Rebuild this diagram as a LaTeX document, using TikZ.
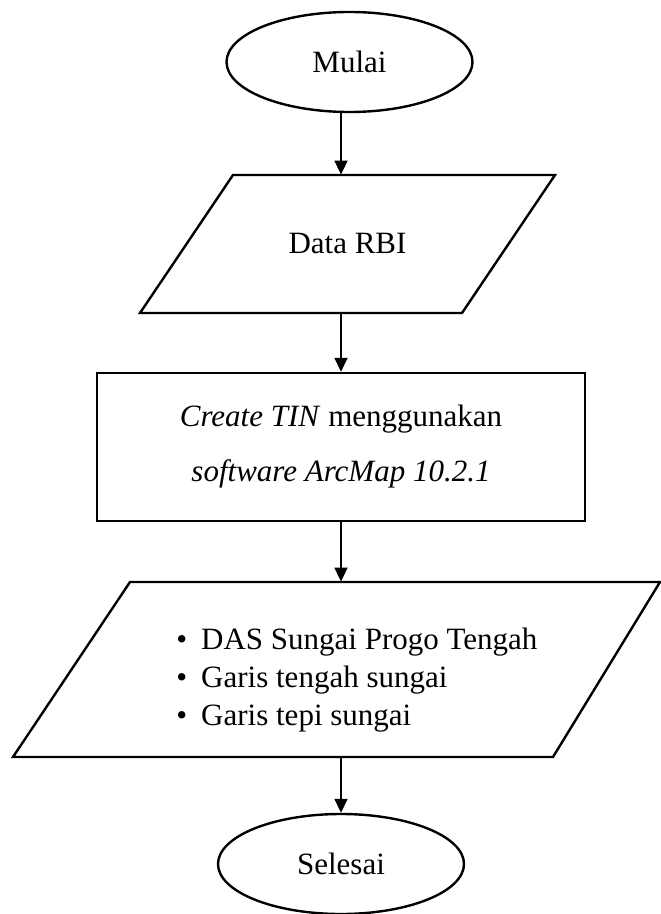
\documentclass[tikz,border=0pt]{standalone}
\usepackage{fontspec}
\setmainfont{Liberation Serif}
\usetikzlibrary{shapes.geometric,arrows.meta}

\tikzset{
  every node/.style={font=\fontsize{15.5}{19}\selectfont},
  outline/.style={draw=black, line width=1.2pt},
  terminal/.style={outline, ellipse, minimum width=123pt, minimum height=50pt, inner sep=0pt},
  iolabel/.style={draw=none, minimum width=10pt, inner sep=0pt},
  process/.style={outline, rectangle, minimum width=244pt, minimum height=74pt, inner sep=0pt, align=center},
  flow/.style={draw=black, line width=0.8pt, -{Triangle[width=6.5pt,length=7pt]}}
}

\begin{document}
\begin{tikzpicture}[x=0.5pt, y=-0.5pt]
  \useasboundingbox (0,0) rectangle (660,914);
  \coordinate (axis) at (341,0);

  % start terminal
  \node[terminal] (mulai) at (349.5,62) {Mulai};

  % input: RBI data
  \node[iolabel, minimum height=69pt] (data) at (347.5,244) {Data RBI};
  \draw[outline, line join=miter] (233,175) -- (555,175) -- (462,313) -- (140,313) -- cycle;

  % processing step
  \node[process, font=\fontsize{15.5}{27.5}\selectfont] (tin) at (341,447)
    {\textit{Create TIN} menggunakan\\ \textit{software ArcMap 10.2.1}};

  % output layers
  \node[iolabel, minimum height=87.5pt] (hasil) at (341,669.5) {};
  \draw[outline, line join=miter] (130,582) -- (660,582) -- (553,757) -- (13,757) -- cycle;
  \node[anchor=west, align=left, inner sep=0pt] (daftar) at (176,680)
    {\textbullet\hspace{7pt}DAS Sungai Progo Tengah\\
     \textbullet\hspace{7pt}Garis tengah sungai\\
     \textbullet\hspace{7pt}Garis tepi sungai};

  % end terminal
  \node[terminal] (selesai) at (341,864) {Selesai};

  % connectors
  \draw[flow] (mulai.south -| axis) -- (data.north -| axis);
  \draw[flow] (data.south -| axis) -- (tin.north -| axis);
  \draw[flow] (tin.south -| axis) -- (hasil.north -| axis);
  \draw[flow] (hasil.south -| axis) -- (selesai.north -| axis);
\end{tikzpicture}
\end{document}
